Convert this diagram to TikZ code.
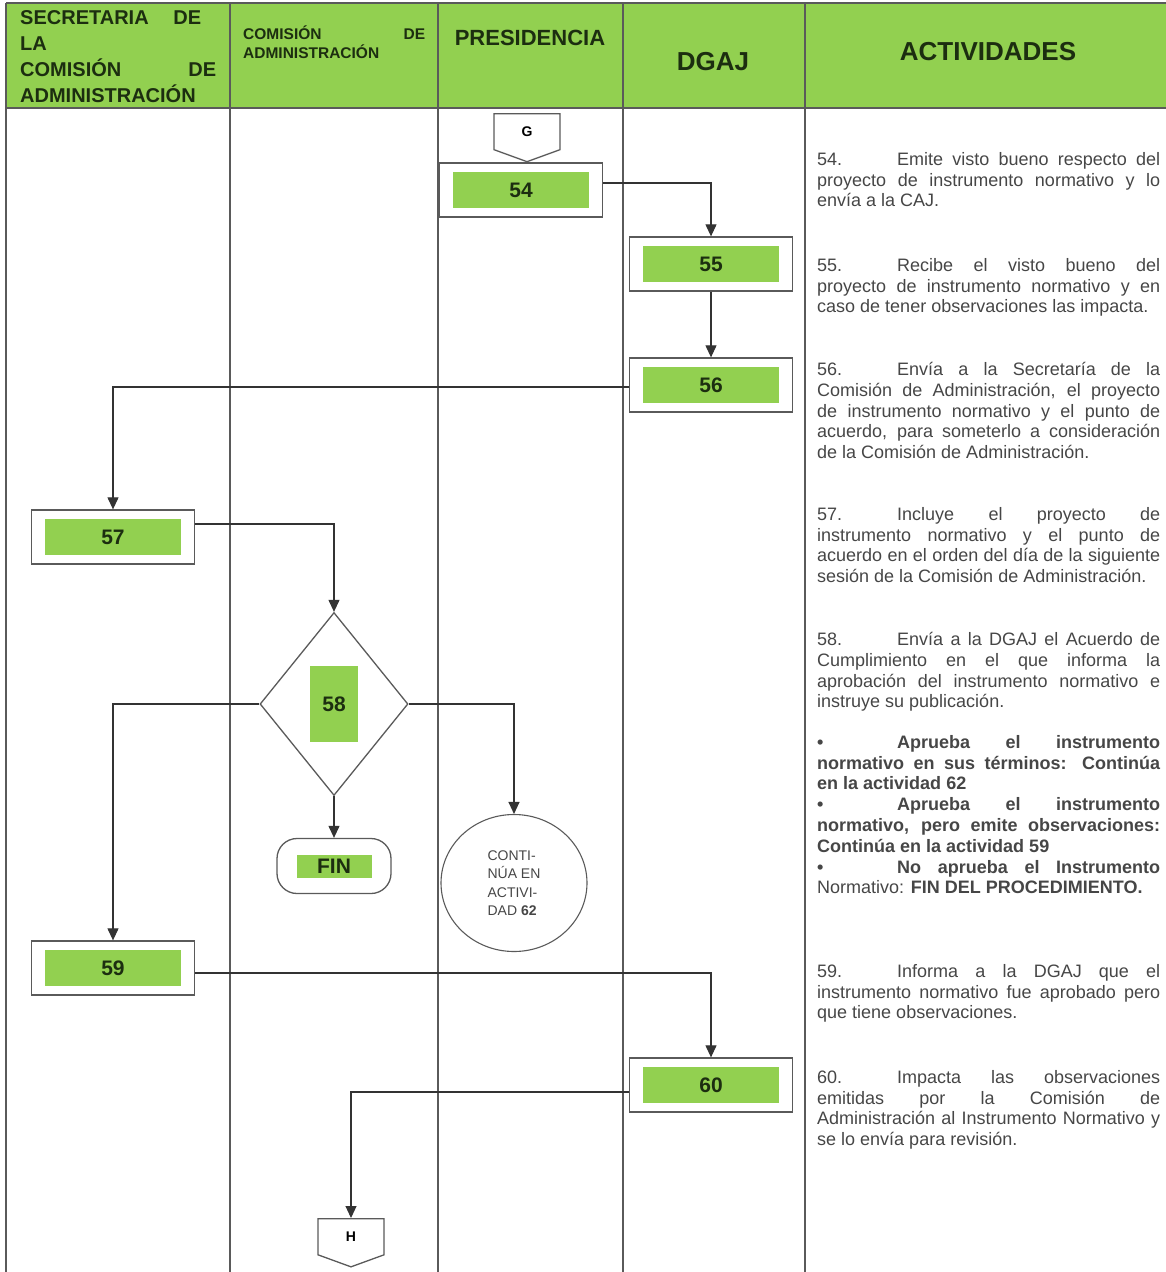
\documentclass[tikz,border=0pt]{standalone}
\usepackage{fontspec}
\setmainfont{Liberation Sans}
\usetikzlibrary{arrows.meta,shapes.geometric,shapes.symbols}
\definecolor{verde}{RGB}{146,208,80}
\definecolor{linea}{RGB}{90,90,90}
\definecolor{texto}{RGB}{70,70,70}
\definecolor{titulo}{RGB}{28,46,16}
\tikzstyle{every picture}=[> = {Triangle[width=11pt,length=12pt]}]
\newcommand\renglon[1]{\makebox[343pt][s]{#1}}
\newcommand\primera[2]{\makebox[80pt][l]{#1}\makebox[263pt][s]{#2}}

\begin{document}
\begin{tikzpicture}[x=1pt,y=-1pt,
    caja/.style={draw=linea,line width=1.3pt,fill=white,minimum width=163pt,minimum height=54pt,inner sep=0},
    numero/.style={fill=verde,text=titulo,minimum width=136pt,minimum height=36pt,inner sep=0,font=\bfseries\fontsize{21}{24}\selectfont},
    conector/.style={signal,signal to=south,signal pointer angle=140,draw=linea,line width=1.3pt,fill=white,minimum width=66pt,minimum height=38pt,inner sep=0,font=\bfseries\fontsize{14}{16}\selectfont,anchor=north},
    flecha/.style={->,draw=black!80,line width=1.1pt},
    cabeza/.style={text=titulo,inner sep=0,align=left},
    actividad/.style={anchor=north west,inner sep=0,align=left,text=texto,font=\fontsize{18}{20.8}\selectfont}]
  \useasboundingbox (0,0) rectangle (1166,1272);

  % encabezado y carriles
  \fill[verde] (6,3) rectangle (1166,108);
  \draw[linea,line width=1.5pt] (6,3) -- (1166,3) (6,108) -- (1166,108);
  \foreach \x in {6,230,438,623,805}
    \draw[linea,line width=1.5pt] (\x,3) -- (\x,1272);

  \node[cabeza,anchor=north west,font=\bfseries\fontsize{20}{26}\selectfont] (secretaria) at (20,10)
    {\makebox[181pt][s]{SECRETARIA DE}\\LA\\\makebox[196pt][s]{COMISIÓN DE}\\ADMINISTRACIÓN};
  \node[cabeza,anchor=north west,font=\bfseries\fontsize{15.5}{19}\selectfont] (comision) at (243,26)
    {\makebox[182pt][s]{COMISIÓN DE}\\ADMINISTRACIÓN};
  \node[cabeza,font=\bfseries\fontsize{22}{26}\selectfont] (presidencia) at (530,38) {PRESIDENCIA};
  \node[cabeza,font=\bfseries\fontsize{26}{30}\selectfont] (dgaj) at (713,62) {DGAJ};
  \node[cabeza,font=\bfseries\fontsize{26}{30}\selectfont] (actividades) at (988,52) {ACTIVIDADES};

  % diagrama
  \node[caja] (a54) at (521,190) {};
  \node[numero] (n54) at (a54) {54};
  \node[conector] (g) at (527,113) {G};
  \node[caja] (a55) at (711,264) {};
  \node[numero] (n55) at (a55) {55};
  \node[caja] (a56) at (711,385) {};
  \node[numero] (n56) at (a56) {56};
  \node[caja] (a57) at (113,537) {};
  \node[numero] (n57) at (a57) {57};
  \node[diamond,draw=linea,line width=1.3pt,fill=white,minimum width=148pt,minimum height=183pt,inner sep=0] (d58) at (334,704) {};
  \node[numero,minimum width=48pt,minimum height=76pt] (n58) at (d58) {58};
  \node[draw=linea,line width=1.3pt,rounded corners=20pt,minimum width=114pt,minimum height=55pt] (fin) at (334,866) {};
  \node[numero,minimum width=75pt,minimum height=23pt] (nfin) at (fin) {FIN};
  \node[ellipse,draw=linea,line width=1.1pt,minimum width=146pt,minimum height=137pt,align=left,text=texto,font=\fontsize{14}{18.5}\selectfont] (c62) at (514,883)
    {CONTI-\\NÚA EN\\ACTIVI-\\DAD \textbf{62}};
  \node[caja] (a59) at (113,968) {};
  \node[numero] (n59) at (a59) {59};
  \node[caja] (a60) at (711,1085) {};
  \node[numero] (n60) at (a60) {60};
  \node[conector] (h) at (351,1218) {H};

  \draw[flecha] ([yshift=7pt]a54.east) -| (a55.north);
  \draw[flecha] (a55.south) -- (a56.north);
  \draw[flecha] ([yshift=-2pt]a56.west) -| (a57.north);
  \draw[flecha] ([yshift=13pt]a57.east) -| (d58.north);
  \draw[flecha] (d58.west) -| (a59.north);
  \draw[flecha] (d58.east) -| (c62.north);
  \draw[flecha] (d58.south) -- (fin.north);
  \draw[flecha] ([yshift=-5pt]a59.east) -| (a60.north);
  \draw[flecha] ([yshift=-7pt]a60.west) -| (h.north);

  % actividades
  \node[actividad] (t54) at (817,152) {\primera{54.}{Emite visto bueno respecto del}\\
    \renglon{proyecto de instrumento normativo y lo}\\
    envía a la CAJ.};
  \node[actividad] (t55) at (817,258) {\primera{55.}{Recibe el visto bueno del}\\
    \renglon{proyecto de instrumento normativo y en}\\
    caso de tener observaciones las impacta.};
  \node[actividad] (t56) at (817,362) {\primera{56.}{Envía a la Secretaría de la}\\
    \renglon{Comisión de Administración, el proyecto}\\
    \renglon{de instrumento normativo y el punto de}\\
    \renglon{acuerdo, para someterlo a consideración}\\
    de la Comisión de Administración.};
  \node[actividad] (t57) at (817,507) {\primera{57.}{Incluye el proyecto de}\\
    \renglon{instrumento normativo y el punto de}\\
    \renglon{acuerdo en el orden del día de la siguiente}\\
    sesión de la Comisión de Administración.};
  \node[actividad] (t58) at (817,632) {\primera{58.}{Envía a la DGAJ el Acuerdo de}\\
    \renglon{Cumplimiento en el que informa la}\\
    \renglon{aprobación del instrumento normativo e}\\
    instruye su publicación.};
  \node[actividad,font=\bfseries\fontsize{18}{20.8}\selectfont] (t58b) at (817,735) {\primera{•}{Aprueba el instrumento}\\
    \renglon{normativo en sus términos: Continúa}\\
    en la actividad 62\\
    \primera{•}{Aprueba el instrumento}\\
    \renglon{normativo, pero emite observaciones:}\\
    Continúa en la actividad 59\\
    \primera{•}{No aprueba el Instrumento}\\
    {\mdseries Normativo:} FIN DEL PROCEDIMIENTO.};
  \node[actividad] (t59) at (817,964) {\primera{59.}{Informa a la DGAJ que el}\\
    \renglon{instrumento normativo fue aprobado pero}\\
    que tiene observaciones.};
  \node[actividad] (t60) at (817,1070) {\primera{60.}{Impacta las observaciones}\\
    \renglon{emitidas por la Comisión de}\\
    \renglon{Administración al Instrumento Normativo y}\\
    se lo envía para revisión.};
\end{tikzpicture}
\end{document}
